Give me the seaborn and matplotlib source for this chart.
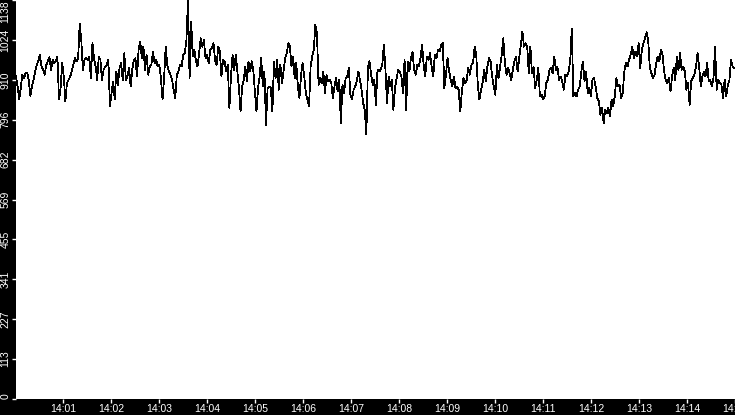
import seaborn as sns
import matplotlib.pyplot as plt
import matplotlib.dates as mdates
import numpy as np
import pandas as pd

# values, left to right (~2 s apart), 14:00 - 14:15
seg1 = [920, 891, 855, 887, 925, 915, 929, 931, 910, 865, 891, 910, 934, 953, 963, 982, 948, 939, 925, 953,
        963, 975, 939, 967, 958, 963, 977, 854, 887, 958, 920, 849, 901, 910, 920, 934, 953, 972, 963, 972,
        1070, 1024, 939, 967, 972, 967, 977, 915, 1015, 972, 948, 910, 977, 967, 910, 939, 948, 953, 967, 836,
        873, 906, 854, 934, 896, 944, 958, 910, 986, 910, 920, 944, 891, 939]
seg2 = [967, 972, 920, 996, 1019, 972, 1005, 939, 982, 925, 948, 953, 991, 958, 967, 948, 953, 915, 854, 915,
        1005, 953, 934, 925, 910, 882, 858, 925, 934, 953, 948, 982, 986, 1024, 1138, 915, 1076, 977, 996, 963,
        948, 986, 1029, 1005, 1024, 972, 982, 958, 996, 1000, 1015, 967, 953, 1005, 991, 920, 967, 963, 934, 953,
        830, 920, 982, 939, 982, 934, 887, 820, 891, 910, 948, 906, 963, 934, 963]
seg3 = [939, 877, 820, 887, 920, 972, 891, 934, 782, 887, 891, 887, 820, 963, 915, 967, 882, 953, 901, 934,
        972, 986, 1015, 1005, 948, 977, 915, 958, 891, 858, 925, 958, 920, 873, 854, 835, 948, 977, 996, 1067,
        1043, 896, 915, 901, 934, 873, 925, 906, 910, 901, 858, 891, 915, 877, 910, 787, 896, 873, 915, 920,
        944, 868, 854, 882, 891, 906, 934, 910, 882, 844, 825, 754, 948, 963, 925]
seg4 = [896, 910, 839, 939, 934, 939, 953, 1010, 939, 844, 920, 891, 910, 825, 887, 915, 939, 934, 920, 873,
        967, 825, 963, 934, 972, 991, 939, 925, 953, 948, 972, 1010, 953, 920, 977, 967, 986, 948, 920, 982,
        972, 996, 991, 1010, 1015, 887, 925, 972, 934, 910, 891, 920, 887, 891, 882, 820, 877, 915, 901, 910,
        944, 925, 953, 958, 1005, 982, 896, 854, 882, 901, 939, 906, 948, 972, 963, 920]
seg5 = [891, 868, 953, 915, 948, 982, 1029, 958, 925, 944, 929, 910, 939, 963, 977, 934, 972, 1010, 1048, 1005,
        1015, 1005, 929, 1005, 929, 948, 887, 910, 944, 863, 868, 854, 863, 901, 910, 939, 944, 929, 977, 939,
        948, 910, 920, 906, 882, 925, 920, 934, 963, 1057, 863, 873, 863, 882, 891, 934, 963, 906, 934, 873,
        887, 863, 910, 915, 891, 858, 849, 811, 830, 787, 825, 815, 830, 806, 854, 835, 863, 915, 891]
seg6 = [896, 858, 873, 934, 958, 948, 967, 982, 1005, 972, 991, 977, 1015, 944, 996, 1015, 1029, 1046, 1024, 944,
        929, 915, 925, 958, 977, 963, 996, 982, 934, 910, 901, 915, 877, 920, 944, 910, 977, 939, 986, 939,
        948, 934, 882, 901, 839, 906, 915, 925, 948, 986, 948, 891, 920, 934, 920, 958, 906, 910, 891, 915,
        1005, 882, 910, 901, 896, 858, 910, 863, 896, 910, 967, 948, 944]
values = seg1 + seg2 + seg3 + seg4 + seg5 + seg6

t_start = "2024-01-01 14:00:01"
t_end = "2024-01-01 14:14:59"
y_max = 1138
y_labels = ["0", "113", "227", "341", "455", "569", "682", "796", "910", "1024", "1138"]

times = pd.date_range(t_start, t_end, periods=len(values))
df = pd.DataFrame({"time": times, "value": values})

plt.rcParams["font.family"] = ["Liberation Sans", "DejaVu Sans"]

fig = plt.figure(figsize=(7.35, 4.15), dpi=100, facecolor="black")
ax = fig.add_axes([16 / 735, 16 / 415, 1 - 16 / 735, 1 - 16 / 415])
ax.set_facecolor("white")

sns.lineplot(data=df, x="time", y="value", ax=ax, color="black", linewidth=0.55, antialiased=False)

ax.set_xlim(pd.Timestamp(t_start), pd.Timestamp("2024-01-01 14:15:00"))
ax.set_ylim(0, y_max)
ax.set_xlabel("")
ax.set_ylabel("")

ax.xaxis.set_major_locator(mdates.MinuteLocator())
ax.xaxis.set_major_formatter(mdates.DateFormatter("%H:%M"))
ax.set_yticks(np.linspace(0, y_max, len(y_labels)))
ax.set_yticklabels(y_labels, rotation=90)

ax.tick_params(colors="white", labelcolor="white", labelsize=7.5, length=3, width=1)
ax.tick_params(axis="x", pad=0.3)
ax.tick_params(axis="y", pad=1)
labels = ax.get_yticklabels()
labels[0].set_va("bottom")
labels[-1].set_va("top")
for lab in labels[1:-1]:
    lab.set_va("center")

for s in ax.spines.values():
    s.set_visible(False)

fig.savefig("out.png", dpi=100, facecolor="black")
